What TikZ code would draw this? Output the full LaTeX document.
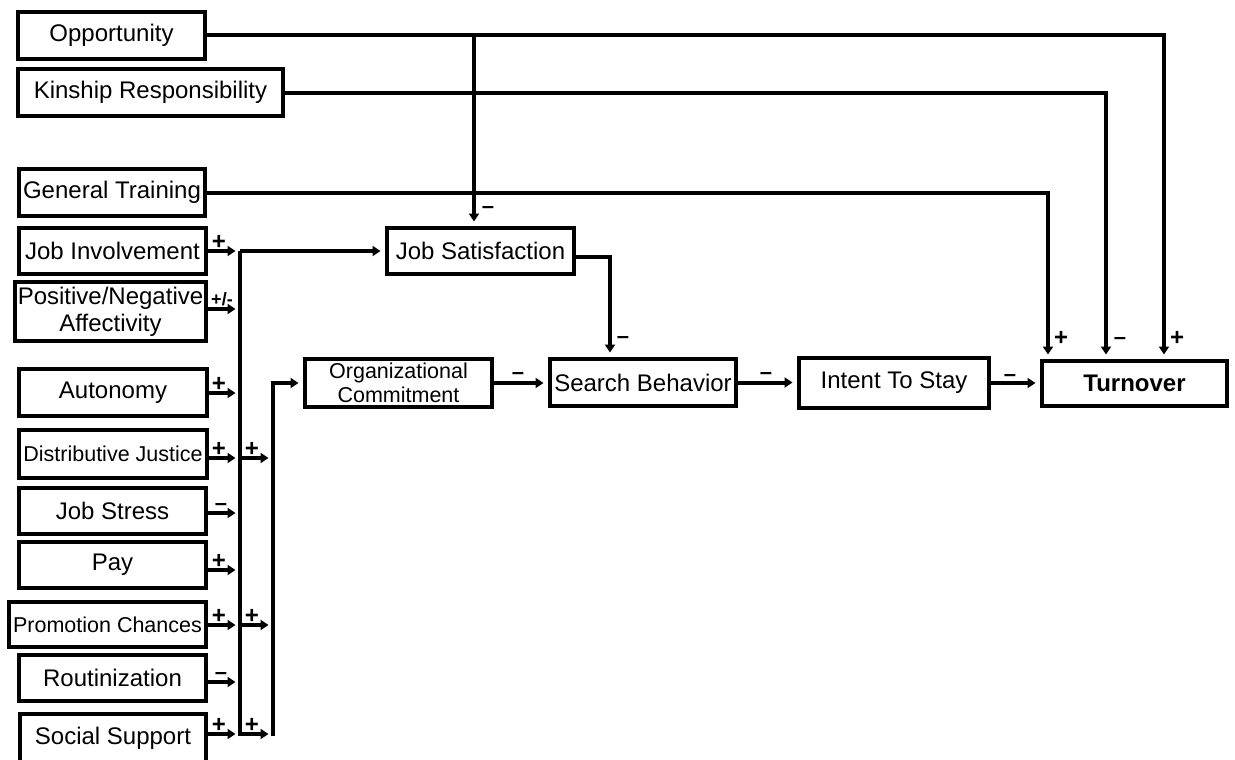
\documentclass[tikz,border=0pt]{standalone}
\usepackage{fontspec}
\setmainfont{Liberation Sans}
\usetikzlibrary{arrows.meta,calc}
\begin{document}
\begin{tikzpicture}[x=1pt,y=-1pt,
  box/.style={draw, line width=4.2pt, inner sep=0pt, align=center,
              font=\fontsize{24}{27}\selectfont},
  smallbox/.style={box, font=\fontsize{21.5}{23.5}\selectfont},
  wire/.style={line width=4pt},
  link/.style={wire, shorten >=4.5pt, -{Triangle[length=8pt,width=10pt]}},
  plus/.style={inner sep=0pt, anchor=base, font=\fontsize{24}{24}\selectfont\bfseries},
  minus/.style={inner sep=0pt, anchor=base, font=\fontsize{22}{22}\selectfont\bfseries},
  pm/.style={inner sep=0pt, anchor=base, font=\fontsize{18}{18}\selectfont\bfseries},
]
\useasboundingbox (0,0) rectangle (1235,760);

% ---------- source boxes ----------
\node[box, minimum width=186.8, minimum height=46.8] (opp)  at (111.5,35.5) {Opportunity};
\node[box, minimum width=264.8, minimum height=46.8] (kin)  at (150.5,92.5) {Kinship Responsibility};
\node[box, minimum width=185.8, minimum height=46.8] (gen)  at (112,192.5)  {General Training};
\node[box, minimum width=186.8, minimum height=45.8] (jinv) at (112.5,251)  {Job Involvement};
\node[box, minimum width=190.8, minimum height=58.8] (pna)  at (110.5,311.5) {Positive/Negative\\Affectivity};
\node[box, minimum width=187.8, minimum height=46.8] (aut)  at (113,392.5)  {Autonomy};
\node[smallbox, minimum width=187.8, minimum height=47.8] (dj) at (113,454) {Distributive Justice};
\node[box, minimum width=186.8, minimum height=45.8] (stress) at (112.5,511) {Job Stress};
\node[box, minimum width=186.8, minimum height=45.8] (pay)  at (112.5,565)  {Pay};
\node[smallbox, minimum width=196.8, minimum height=44.8] (pc) at (107.5,624.5) {Promotion Chances};
\node[box, minimum width=186.8, minimum height=45.8] (rout) at (112.5,678)  {Routinization};
\node[box, minimum width=185.8, minimum height=47.8] (ss)   at (113,738)    {Social Support};

% ---------- main chain ----------
\node[box, minimum width=186.8, minimum height=45.8] (jsat)   at (480.5,251) {Job Satisfaction};
\node[smallbox, minimum width=186.8, minimum height=47.8] (org) at (398.5,383) {Organizational\\Commitment};
\node[box, minimum width=185.8, minimum height=46.8] (search) at (643,382.5) {Search Behavior};
\node[box, minimum width=189.8, minimum height=49.8] (intent) at (894,383)   {Intent To Stay};
\node[box, minimum width=184.8, minimum height=44.8, font=\fontsize{24}{27}\selectfont\bfseries] (turn) at (1134.5,383.5) {Turnover};

% ---------- routing points ----------
\coordinate (oppR) at (1164,35.5);
\coordinate (oppJ) at (474,35.5);
\coordinate (kinR) at (1106,93.5);
\coordinate (genR) at (1048,192.5);
\coordinate (jsR)  at (610,257);

\coordinate (top1) at (240,251);
\coordinate (bot1) at (240,734);
\coordinate (top2) at (273,383);
\coordinate (bot2) at (273,736);

\coordinate (bPna)  at (240,309);
\coordinate (bAut)  at (240,393);
\coordinate (bDj)   at (240,458);
\coordinate (bStr)  at (240,513);
\coordinate (bPay)  at (240,570);
\coordinate (bPc)   at (240,625);
\coordinate (bRout) at (240,682);
\coordinate (bSs)   at (240,734);

\coordinate (cDj) at (273,458);
\coordinate (cPc) at (273,625);
\coordinate (cSs) at (273,734);

% ---------- long lines to turnover ----------
\draw[link] (opp.east) -- (oppR) -- (turn.north -| oppR);
\draw[link] (oppJ) -- (jsat.north -| oppJ);
\draw[link] (kin.east |- kinR) -- (kinR) -- (turn.north -| kinR);
\draw[link] (gen.east |- genR) -- (genR) -- (turn.north -| genR);

% ---------- chain ----------
\draw[link] (jsat.east |- jsR) -- (jsR) -- (search.north -| jsR);
\draw[link] (org.east) -- (org.east -| search.west);
\draw[link] (search.east) -- (search.east -| intent.west);
\draw[link] (intent.east) -- (intent.east -| turn.west);

% ---------- collector buses ----------
\draw[link] (top1) -- (jsat.west);
\draw[link] (top1) -- (bot1) -- (cSs);
\draw[link] (bot2) -- (top2) -- (org.west |- top2);
\draw[link] (bDj) -- (cDj);
\draw[link] (bPc) -- (cPc);

% ---------- inputs into the first bus ----------
\draw[link] (jinv.east |- top1) -- (top1);
\draw[link] (pna.east |- bPna) -- (bPna);
\draw[link] (aut.east |- bAut) -- (bAut);
\draw[link] (dj.east |- bDj) -- (bDj);
\draw[link] (stress.east |- bStr) -- (bStr);
\draw[link] (pay.east |- bPay) -- (bPay);
\draw[link] (pc.east |- bPc) -- (bPc);
\draw[link] (rout.east |- bRout) -- (bRout);
\draw[link] (ss.east |- bSs) -- (bSs);

% ---------- signs ----------
\node[plus] (sJinv)  at (219,249.5) {+};
\node[pm]   (sPna)   at (222,305)   {+/-};
\node[plus] (sAut)   at (219,391.5) {+};
\node[plus] (sDj)    at (219,456.5) {+};
\node[minus] (sStr)  at (221,510)   {–};
\node[plus] (sPay)   at (219,568.5) {+};
\node[plus] (sPc)    at (219,623.5) {+};
\node[minus] (sRout) at (221,679)   {–};
\node[plus] (sSs)    at (219,732)   {+};
\node[plus] (tDj)    at (252,456.5) {+};
\node[plus] (tPc)    at (252,623.5) {+};
\node[plus] (tSs)    at (252,732)   {+};

\node[minus] (sJsat)   at (488,213)  {–};
\node[minus] (sSearch) at (623,343)  {–};
\node[minus] (sOrg)    at (518,379)  {–};
\node[minus] (sInt)    at (766,379)  {–};
\node[minus] (sTurn)   at (1010,381) {–};
\node[plus]  (sGen)    at (1061,345.5) {+};
\node[minus] (sKin)    at (1120,344) {–};
\node[plus]  (sOpp)    at (1177,345.5) {+};
\end{tikzpicture}
\end{document}
